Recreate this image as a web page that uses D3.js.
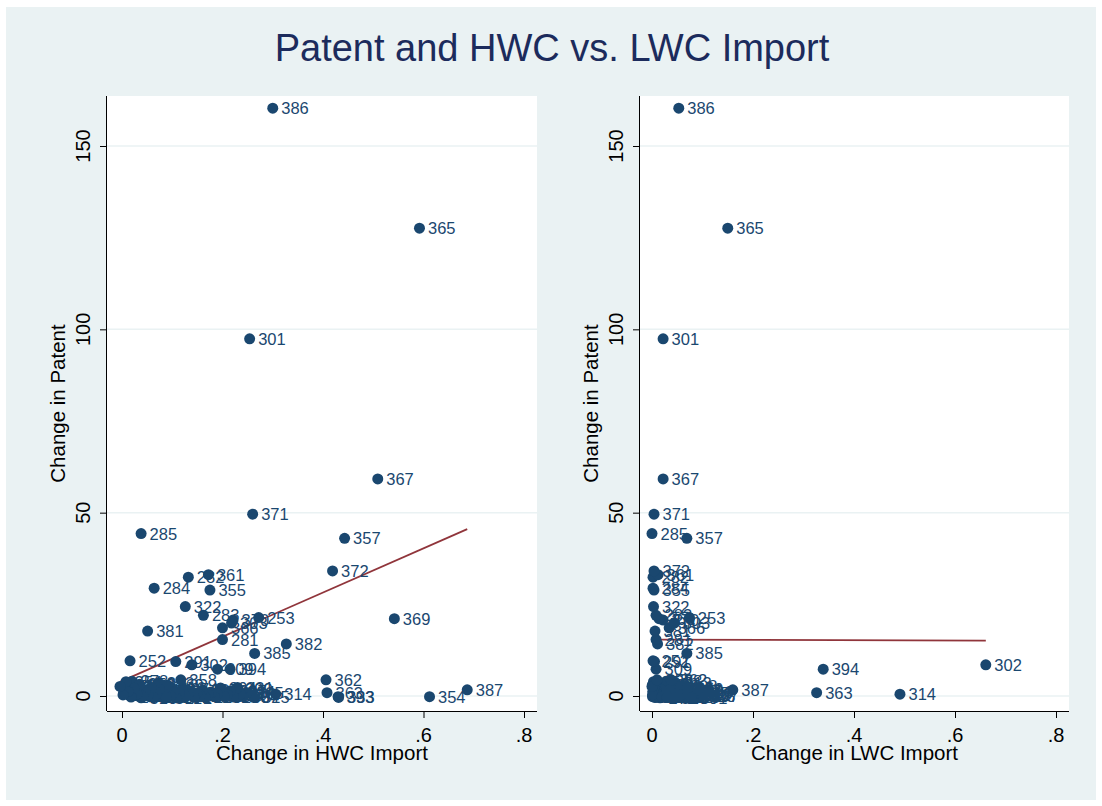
<!DOCTYPE html>
<html>
<head>
<meta charset="utf-8">
<script src="https://cdn.jsdelivr.net/npm/d3@7"></script>
<style>
  body { margin: 0; background: #fff; }
  text { font-family: "Liberation Sans", Arial, sans-serif; }
</style>
</head>
<body>
<div id="chart"></div>
<script>
// observation ids and their values
const ids = [386, 365, 301, 367, 371, 285, 357, 372, 361, 282, 284, 355, 322, 283, 253, 369, 370, 303, 366, 381,
  281, 382, 385, 252, 291, 302, 309, 394, 358, 362, 363, 333, 393, 354, 387, 314, 391,
  250, 251, 254, 255, 256, 257, 258, 259, 260, 261, 262, 263, 264, 265, 266, 267, 268, 269, 270, 271,
  272, 273, 274, 275, 276, 277, 278, 279, 280, 286, 287, 288, 289, 290, 292, 293, 294, 295, 296, 297,
  298, 299, 300, 304, 305, 306, 307, 308, 310, 311, 312, 313, 315, 316, 317, 318, 319, 320, 321, 323,
  324, 325, 326, 327, 328, 329, 330, 331];
const hwcImport = [.300, .592, .254, .509, .260, .038, .443, .419, .172, .132, .064, .175, .126, .162, .272, .542, .221, .218, .200, .051,
  .200, .327, .264, .016, .107, .139, .190, .215, .117, .406, .408, .431, .430, .612, .687, .306, .088,
  -.004, .002, .008, .012, .018, .024, .030, .035, .041, .046, .052, .058, .063, .069, .074, .080, .086, .091, .097, .103,
  .108, .114, .120, .126, .131, .137, .020, .143, .149, .155, .160, .166, .172, .178, .184, .190, .196, .203, .210, .216,
  .222, .228, .236, .241, .250, .006, .015, .027, .038, .048, .060, .072, .085, .095, .003, .010, .033, .055, .078, .100,
  .233, .262, .033, .066, .145, .181, .120, .230];
const lwcImport = [.053, .150, .022, .022, .004, .000, .069, .004, .012, .002, .002, .004, .003, .008, .074, .014, .022, .044, .034, .006,
  .008, .011, .069, .002, .005, .661, .008, .339, .010, .038, .326, .030, .052, .020, .160, .491, .078,
  .000, .001, .003, .002, .006, .004, .010, .002, .015, .008, .012, .003, .020, .006, .018, .009, .025, .004, .030, .011,
  .016, .007, .035, .022, .013, .042, .028, .009, .019, .048, .026, .006, .055, .014, .032, .060, .021, .008, .065, .037,
  .012, .070, .045, .017, .082, .090, .100, .058, .040, .072, .085, .047, .063, .052, .034, .024, .016, .001, .002, .005,
  .027, .039, .001, .067, .094, .088, .076, .050];
const patent = [160.3, 127.6, 97.4, 59.2, 49.6, 44.3, 43.0, 34.1, 33.1, 32.4, 29.4, 28.9, 24.4, 22.0, 21.4, 21.1, 20.7, 19.9, 18.6, 17.7,
  15.4, 14.2, 11.6, 9.6, 9.4, 8.5, 7.3, 7.3, 4.4, 4.4, 0.9, -0.4, -0.2, -0.2, 1.7, 0.5, -0.5,
  2.6, 0.3, 3.9, 1.2, -0.3, 2.1, 0.6, 3.2, -0.1, 1.5, 0.2, 2.4, -0.4, 0.9, 1.8, -0.2, 0.4, 2.9, 0.0, 1.1,
  -0.5, 0.7, 1.9, -0.1, 0.5, 1.3, 4.0, -0.3, 0.8, 0.2, 1.6, -0.4, 0.4, 1.0, -0.2, 0.6, 2.2, -0.1, 0.3, 1.4,
  -0.3, 2.0, 0.5, -0.2, 0.9, 1.0, 0.1, 2.7, -0.5, 1.7, 0.3, 3.5, -0.3, 2.3, 0.8, 1.6, 0.0, -0.2, 1.2, 0.2,
  1.2, -0.4, 3.0, 1.3, 0.1, 0.6, -0.1, 2.3];

// fitted lines
const fitIntercept = [4.1, 15.4];
const fitSlope = [60.3, -0.45];

const xTicks = [0, 0.2, 0.4, 0.6, 0.8];
const yTicks = [0, 50, 100, 150];
const xTitles = ["Change in HWC Import", "Change in LWC Import"];
const yTitle = "Change in Patent";
const title = "Patent and HWC vs. LWC Import";

const width = 1102;
const height = 806;
const navy = "#1a476f";
const maroon = "#90353b";
const bg = "#eaf2f3";

const svg = d3.select("#chart").append("svg")
  .attr("width", width)
  .attr("height", height);

svg.append("rect")
  .attr("x", 6).attr("y", 7)
  .attr("width", 1090).attr("height", 793)
  .attr("fill", bg);

svg.append("text")
  .attr("x", 552).attr("y", 61)
  .attr("text-anchor", "middle")
  .attr("font-size", 38)
  .attr("fill", "#1c2b5c")
  .text(title);

const panels = [
  { left: 107, right: 537, x0: 122, x1: 524, xs: hwcImport },
  { left: 640, right: 1069, x0: 652, x1: 1056, xs: lwcImport }
];
const plotTop = 96;
const plotBottom = 711;

const yScale = d3.scaleLinear().domain([0, 150]).range([696, 146]);

panels.forEach((p, k) => {
  const xScale = d3.scaleLinear().domain([0, 0.8]).range([p.x0, p.x1]);
  const g = svg.append("g");

  g.append("rect")
    .attr("x", p.left).attr("y", plotTop)
    .attr("width", p.right - p.left).attr("height", plotBottom - plotTop)
    .attr("fill", "#fff");

  // grid
  g.selectAll(".grid").data(yTicks).enter().append("line")
    .attr("x1", p.left).attr("x2", p.right)
    .attr("y1", (d) => yScale(d)).attr("y2", (d) => yScale(d))
    .attr("stroke", bg).attr("stroke-width", 1.5);

  // axes
  const yAxis = d3.axisLeft(yScale).tickValues(yTicks).tickSize(7).tickFormat("");
  const ya = g.append("g").attr("transform", `translate(${p.left},0)`).call(yAxis);
  ya.select(".domain").attr("d", `M-0.5,${plotTop}V${plotBottom}`).attr("stroke", "#000");
  ya.selectAll(".tick line").attr("stroke", "#000");

  const xAxis = d3.axisBottom(xScale).tickValues(xTicks).tickSize(7).tickFormat("");
  const xa = g.append("g").attr("transform", `translate(0,${plotBottom})`).call(xAxis);
  xa.select(".domain").attr("d", `M${p.left},0.5H${p.right}`).attr("stroke", "#000");
  xa.selectAll(".tick line").attr("stroke", "#000");

  // tick labels
  g.selectAll(".ylab").data(yTicks).enter().append("text")
    .attr("transform", (d) => `translate(${p.left - 17},${yScale(d)}) rotate(-90)`)
    .attr("text-anchor", "middle")
    .attr("font-size", 20)
    .text((d) => d);
  g.selectAll(".xlab").data(xTicks).enter().append("text")
    .attr("x", (d) => xScale(d)).attr("y", 742)
    .attr("text-anchor", "middle")
    .attr("font-size", 20)
    .text((d) => (d === 0 ? "0" : d3.format(".1f")(d).replace(/^0/, "")));

  // titles
  g.append("text")
    .attr("transform", `translate(${p.left - 42},${(plotTop + plotBottom) / 2}) rotate(-90)`)
    .attr("text-anchor", "middle")
    .attr("font-size", 20.5)
    .text(yTitle);
  g.append("text")
    .attr("x", (p.left + p.right) / 2).attr("y", 760)
    .attr("text-anchor", "middle")
    .attr("font-size", 20.5)
    .text(xTitles[k]);

  // fit line
  const ext = d3.extent(p.xs);
  g.append("line")
    .attr("x1", xScale(ext[0])).attr("x2", xScale(ext[1]))
    .attr("y1", yScale(fitIntercept[k] + fitSlope[k] * ext[0]))
    .attr("y2", yScale(fitIntercept[k] + fitSlope[k] * ext[1]))
    .attr("stroke", maroon).attr("stroke-width", 1.8);

  // points then labels
  const idx = d3.range(ids.length).reverse();
  g.selectAll(".dot").data(idx).enter().append("circle")
    .attr("cx", (i) => xScale(p.xs[i]))
    .attr("cy", (i) => yScale(patent[i]))
    .attr("r", 5.5)
    .attr("fill", navy);
  g.selectAll(".lbl").data(idx).enter().append("text")
    .attr("x", (i) => xScale(p.xs[i]) + 8.5)
    .attr("y", (i) => yScale(patent[i]) + 6)
    .attr("font-size", 16.5)
    .attr("fill", navy)
    .text((i) => ids[i]);
});
</script>
</body>
</html>
